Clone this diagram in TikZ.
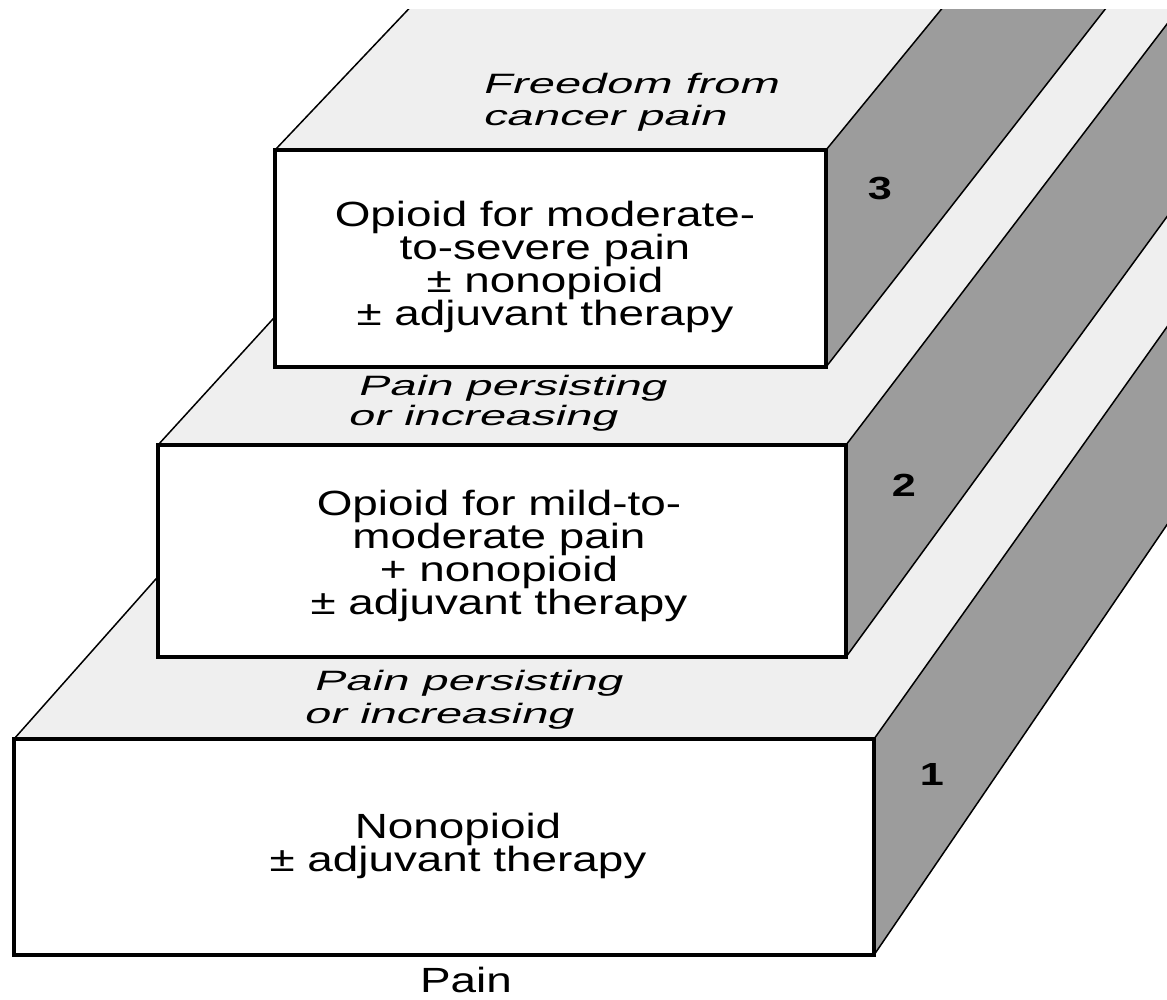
\documentclass[tikz,border=0pt]{standalone}
\usepackage{fontspec}
\setmainfont{Liberation Sans}
\newfontfamily\boxfont[FakeStretch=1.31]{Liberation Sans}
\newfontfamily\labfont[FakeStretch=1.68,FakeSlant=0.3]{Liberation Sans}
\newfontfamily\numfont[FakeStretch=1.35]{Liberation Sans}
\usetikzlibrary{backgrounds}
\definecolor{topgray}{gray}{0.937}
\definecolor{sidegray}{gray}{0.612}
\tikzset{
  face/.style={draw=black,line width=3.2pt,fill=white,rectangle,outer sep=0pt,inner sep=0pt},
  edge/.style={draw=black,line width=1.5pt},
  boxtext/.style={align=center,inner sep=0pt,font=\boxfont\fontsize{35}{33}\selectfont},
  numtext/.style={inner sep=0pt,font=\numfont\bfseries\fontsize{32}{32}\selectfont},
  labtext/.style={inner sep=0pt,anchor=base west,font=\labfont\fontsize{28}{28}\selectfont}
}
\begin{document}
\begin{tikzpicture}[x=1pt,y=-1pt]
\useasboundingbox (0,0) rectangle (1167,999);
\coordinate (vp) at (4350,-4150);
% front faces
\node[face,minimum width=860pt,minimum height=216pt] (f1) at (444,847) {};
\node[face,minimum width=688pt,minimum height=212pt] (f2) at (502,551) {};
\node[face,minimum width=551pt,minimum height=217pt] (f3) at (550.5,258.5) {};
% receding surfaces
\begin{scope}[on background layer]
  \clip (0,9) rectangle (1167,999);
  \foreach \b in {f1,f2,f3}{
    \fill[topgray] (\b.north west) -- (vp) -- (\b.north east) -- cycle;
    \fill[sidegray] (\b.north east) -- (vp) -- (\b.south east) -- cycle;
    \draw[edge] (\b.north west) -- (vp);
    \draw[edge] (\b.north east) -- (vp);
    \draw[edge] (\b.south east) -- (vp);
  }
\end{scope}
% texts
\node[boxtext] (t3) at (545,267) {Opioid for moderate-\\to-severe pain\\± nonopioid\\± adjuvant therapy};
\node[boxtext] (t2) at (499,556) {Opioid for mild-to-\\moderate pain\\+ nonopioid\\± adjuvant therapy};
\node[boxtext] (t1) at (458,846) {Nonopioid\\± adjuvant therapy};
\node[boxtext,anchor=base] (pain) at (466,992) {Pain};
\node[numtext] (n3) at (880,189) {3};
\node[numtext] (n2) at (904,485) {2};
\node[numtext] (n1) at (932,774) {1};
\node[labtext] (l3a) at (482,93) {Freedom from};
\node[labtext] (l3b) at (482,125) {cancer pain};
\node[labtext] (l2a) at (357,395) {Pain persisting};
\node[labtext] (l2b) at (347,425) {or increasing};
\node[labtext] (l1a) at (313,690) {Pain persisting};
\node[labtext] (l1b) at (303,723) {or increasing};
\end{tikzpicture}
\end{document}
